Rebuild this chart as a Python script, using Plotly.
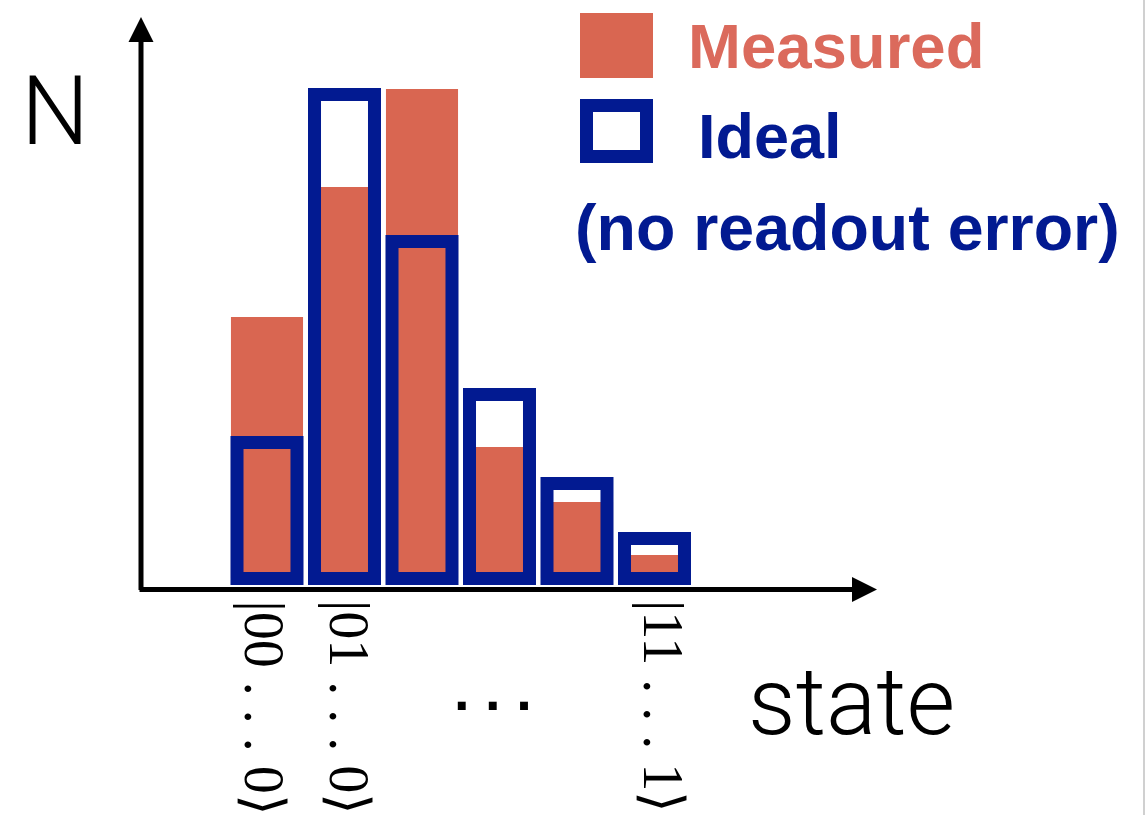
import plotly.graph_objects as go

# Counts per basis state (only a handful of states shown)
states = [0, 1, 2, 3, 4, 5]
measured = [523, 783, 979, 263, 153, 47]
ideal = [272, 968, 674, 368, 190, 80]

# Labels written under selected states
label_states = [0, 1, 5]
label_texts = ["|00 . . . 0⟩", "|01 . . . 0⟩", "|11 . . . 1⟩"]
label_shift = [-3, 5, 9]

legend_texts = ["Measured", "Ideal", "(no readout error)"]
axis_y_title = "N"
axis_x_title = "state"

W, H = 1146, 815
SALMON = "#D96651"
SALMON_TXT = "#DB6A5C"
NAVY = "#021A91"


def px_x(p):
    return p / W


def px_y(p):
    return 1 - p / H


fig = go.Figure()

fig.add_trace(go.Bar(
    x=states, y=measured, width=0.93,
    marker=dict(color=SALMON, line=dict(width=0)),
    name=legend_texts[0],
))
fig.add_trace(go.Bar(
    x=states, y=ideal, width=0.774,
    marker=dict(color="rgba(0,0,0,0)", line=dict(color=NAVY, width=13)),
    name=legend_texts[1],
))

annotations = []

# axes drawn as arrows
annotations.append(dict(
    xref="paper", yref="paper", x=px_x(141), y=px_y(17),
    ax=0, ay=574.5, axref="pixel", ayref="pixel",
    showarrow=True, arrowhead=2, arrowwidth=5, arrowsize=1, arrowcolor="black",
    text="",
))
annotations.append(dict(
    xref="paper", yref="paper", x=px_x(877), y=px_y(589.5),
    ax=-739, ay=0, axref="pixel", ayref="pixel",
    showarrow=True, arrowhead=2, arrowwidth=5, arrowsize=1, arrowcolor="black",
    text="",
))

# state labels, rotated
for s, t, dx in zip(label_states, label_texts, label_shift):
    annotations.append(dict(
        xref="x", yref="paper", x=s, y=px_y(600), xshift=dx,
        xanchor="center", yanchor="top", textangle=90, showarrow=False,
        borderpad=0, borderwidth=0,
        text=t, font=dict(family="Liberation Serif", size=56, color="black"),
    ))

# ellipsis between labelled states
annotations.append(dict(
    xref="paper", yref="paper", x=px_x(493), y=px_y(657),
    xanchor="center", yanchor="top", showarrow=False,
    text=". . .", font=dict(family="Liberation Sans", size=56, color="black", weight="bold"),
))

# axis titles
annotations.append(dict(
    xref="paper", yref="paper", x=px_x(19), y=px_y(53),
    xanchor="left", yanchor="top", showarrow=False,
    text=axis_y_title, font=dict(family="Roboto", size=96, color="black", weight=300),
))
annotations.append(dict(
    xref="paper", yref="paper", x=px_x(746), y=px_y(645),
    xanchor="left", yanchor="top", showarrow=False,
    text=axis_x_title, font=dict(family="Roboto", size=94, color="black", weight=300),
))

# legend text
annotations.append(dict(
    xref="paper", yref="paper", x=px_x(685.5), y=px_y(9.4),
    xanchor="left", yanchor="top", showarrow=False,
    text=legend_texts[0], font=dict(family="Liberation Sans", size=63.5, color=SALMON_TXT, weight="bold"),
))
annotations.append(dict(
    xref="paper", yref="paper", x=px_x(695.5), y=px_y(99),
    xanchor="left", yanchor="top", showarrow=False,
    text=legend_texts[1], font=dict(family="Liberation Sans", size=63, color=NAVY, weight="bold"),
))
annotations.append(dict(
    xref="paper", yref="paper", x=px_x(573), y=px_y(190),
    xanchor="left", yanchor="top", showarrow=False,
    text=legend_texts[2], font=dict(family="Liberation Sans", size=64.5, color=NAVY, weight="bold"),
))

shapes = [
    # legend swatches
    dict(type="rect", xref="paper", yref="paper",
         x0=px_x(580), x1=px_x(653), y0=px_y(78), y1=px_y(13),
         fillcolor=SALMON, line=dict(width=0)),
    dict(type="rect", xref="paper", yref="paper",
         x0=px_x(586.5), x1=px_x(646.5), y0=px_y(156.5), y1=px_y(105.5),
         fillcolor="rgba(0,0,0,0)", line=dict(color=NAVY, width=13)),
    # page edge
    dict(type="line", xref="paper", yref="paper",
         x0=px_x(1144), x1=px_x(1144), y0=0, y1=1,
         line=dict(color="#d0d0d0", width=2)),
]

fig.update_layout(
    width=W, height=H,
    margin=dict(l=0, r=0, t=0, b=0),
    paper_bgcolor="white", plot_bgcolor="white",
    barmode="overlay", showlegend=False,
    xaxis=dict(range=[-267 / 77.5, (W - 267) / 77.5], visible=False, fixedrange=True),
    yaxis=dict(range=[2 * (578.5 - H), 2 * 578.5], visible=False, fixedrange=True),
    annotations=annotations, shapes=shapes,
)

fig.write_html("out.html")
